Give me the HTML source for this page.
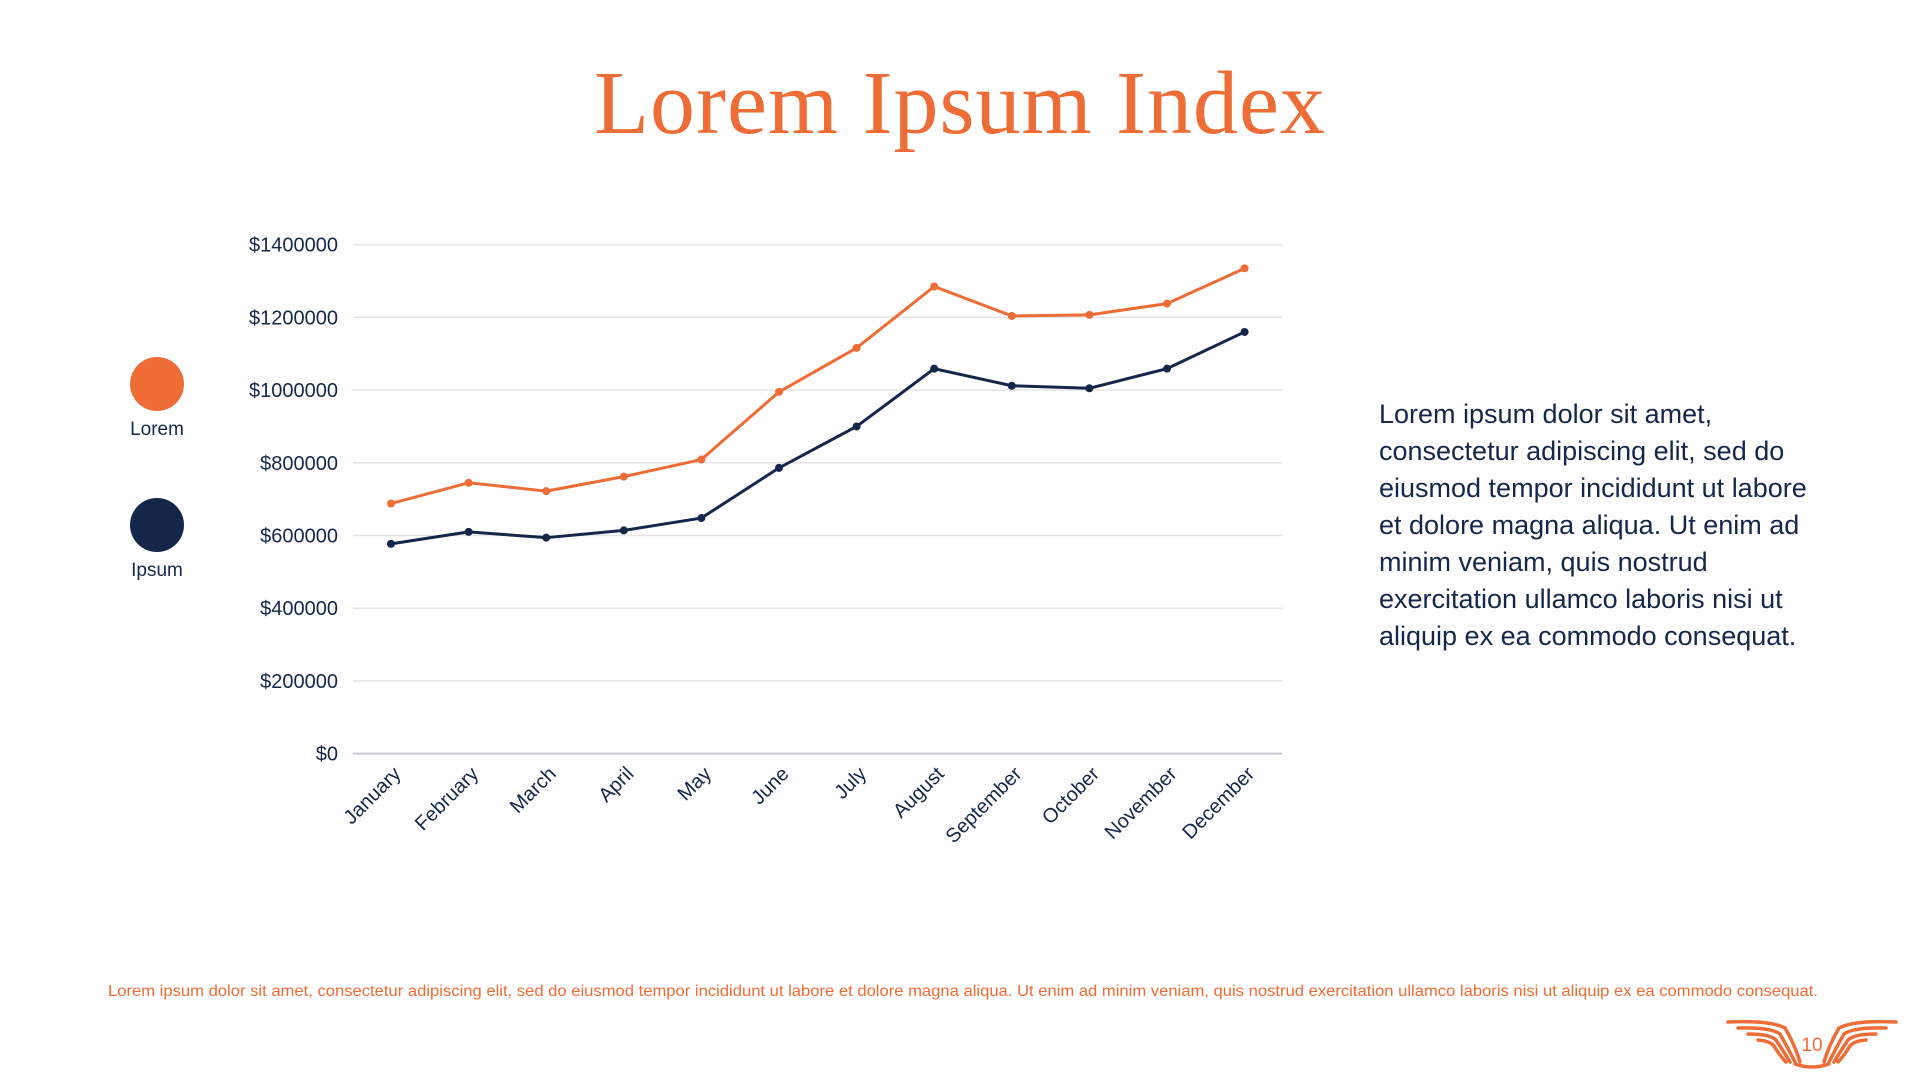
<!DOCTYPE html>
<html><head><meta charset="utf-8"><style>
html,body{margin:0;padding:0;background:#fff}
body{width:1920px;height:1080px;position:relative;overflow:hidden;font-family:"Liberation Sans",sans-serif}
.title{position:absolute;left:0;width:1920px;top:52px;text-align:center;font-family:"Liberation Serif",serif;font-size:90px;color:#ee6c35;letter-spacing:1px}
.leg{position:absolute;width:120px;text-align:center;font-size:19px;color:#14274a}
.dot{width:54px;height:54px;border-radius:50%;margin:0 auto 8px}
.side{position:absolute;left:1379px;top:396px;width:520px;font-size:27px;line-height:37px;color:#14274a;white-space:nowrap}
</style></head><body>
<div class="title">Lorem Ipsum Index</div>
<div class="leg" style="left:97px;top:357px"><div class="dot" style="background:#ee6c35"></div>Lorem</div>
<div class="leg" style="left:97px;top:498px"><div class="dot" style="background:#14274a"></div>Ipsum</div>
<svg id="chart" width="1920" height="1080" style="position:absolute;left:0;top:0"></svg>
<div class="side">Lorem ipsum dolor sit amet,<br>consectetur adipiscing elit, sed do<br>eiusmod tempor incididunt ut labore<br>et dolore magna aliqua. Ut enim ad<br>minim veniam, quis nostrud<br>exercitation ullamco laboris nisi ut<br>aliquip ex ea commodo consequat.</div>
<svg width="1920" height="1080" style="position:absolute;left:0;top:0;pointer-events:none">
<text x="108" y="996" font-size="15.5" fill="#ee6c35" textLength="1710" lengthAdjust="spacingAndGlyphs" font-family="Liberation Sans, sans-serif">Lorem ipsum dolor sit amet, consectetur adipiscing elit, sed do eiusmod tempor incididunt ut labore et dolore magna aliqua. Ut enim ad minim veniam, quis nostrud exercitation ullamco laboris nisi ut aliquip ex ea commodo consequat.</text>
<g fill="none" stroke="#ee6c35" stroke-width="3.5" stroke-linecap="round">
<path d="M1728 1022 Q1770 1020 1785 1028 Q1795 1045 1800 1062"/>
<path d="M1738 1028 Q1770 1027 1780 1034 Q1788 1048 1795 1062"/>
<path d="M1748 1034 Q1770 1034 1776 1040 Q1784 1052 1790 1062"/>
<path d="M1758 1040 Q1770 1041 1774 1046 Q1780 1056 1786 1062"/>
<path d="M1896 1022 Q1854 1020 1839 1028 Q1829 1045 1824 1062"/>
<path d="M1886 1028 Q1854 1027 1844 1034 Q1836 1048 1829 1062"/>
<path d="M1876 1034 Q1854 1034 1848 1040 Q1840 1052 1834 1062"/>
<path d="M1866 1040 Q1854 1041 1850 1046 Q1844 1056 1838 1062"/>
<path d="M1795 1064 Q1812 1070 1829 1064"/>
</g>
<text x="1812" y="1051" font-size="19" fill="#ee6c35" text-anchor="middle" font-family="Liberation Sans, sans-serif">10</text>
</svg>
<script>
const months=["January","February","March","April","May","June","July","August","September","October","November","December"];
const loremValues=[688000,745000,722000,762000,809000,995000,1116000,1285000,1204000,1207000,1238000,1335000];
const ipsumValues=[577000,610000,594000,614000,648000,786000,900000,1059000,1012000,1005000,1059000,1160000];
const yTicks=[0,200000,400000,600000,800000,1000000,1200000,1400000];
const svg=document.getElementById('chart');
const NS='http://www.w3.org/2000/svg';
const x0=391,step=77.6,yBase=753.6,yMax=1400000,yTop=244.7;
function xs(i){return x0+i*step}
function ys(v){return yBase-(v/yMax)*(yBase-yTop)}
function mk(t,a){const e=document.createElementNS(NS,t);for(const k in a)e.setAttribute(k,a[k]);svg.appendChild(e);return e}
yTicks.forEach(v=>{
 const l=mk('line',{x1:353,x2:1282,y1:ys(v),y2:ys(v),stroke:v===0?'#c9ccd2':'#e4e4e6','stroke-width':v===0?2:1.5});
 
 
 const t=mk('text',{x:338,y:ys(v)+7,'text-anchor':'end','font-size':20,fill:'#14274a','font-family':'Liberation Sans, sans-serif'});
 t.textContent='$'+v;
 
 
});
months.forEach((m,i)=>{
 const x=xs(i)+11,y=775;
 const t=mk('text',{x:x,y:y,'text-anchor':'end','font-size':20,fill:'#14274a',transform:`rotate(-45 ${x} ${y})`,'font-family':'Liberation Sans, sans-serif'});
 t.textContent=m;
 
 
});
function series(vals,color,name){
 const p=mk('polyline',{points:vals.map((v,i)=>xs(i)+','+ys(v)).join(' '),fill:'none',stroke:color,'stroke-width':3,'stroke-linejoin':'round'});
 
 
 vals.forEach((v,i)=>{
  const c=mk('circle',{cx:xs(i),cy:ys(v),r:4,fill:color});
  
  
 });
}
series(loremValues,'#ee6c35','lorem');
series(ipsumValues,'#14274a','ipsum');
</script>
</body></html>
